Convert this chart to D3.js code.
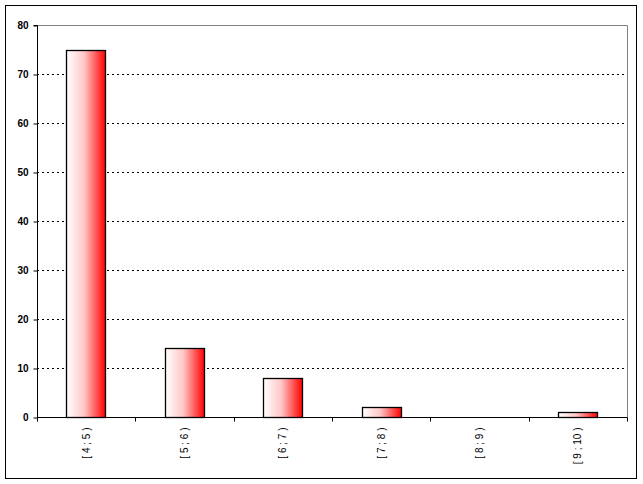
<!DOCTYPE html>
<html><head><meta charset="utf-8">
<script src="https://cdn.jsdelivr.net/npm/d3@7"></script>
<style>body{margin:0;background:#fff}svg{display:block}</style>
</head><body>
<script>
const categories = ["[ 4 ; 5 )", "[ 5 ; 6 )", "[ 6 ; 7 )", "[ 7 ; 8 )", "[ 8 ; 9 )", "[ 9 ; 10 )"];
const values = [75, 14, 8, 2, 0, 1];
const yTicks = [0, 10, 20, 30, 40, 50, 60, 70, 80];

const W = 643, H = 484;
const m = {left: 37, right: 16, top: 25, bottom: 67};
const svg = d3.select("body").append("svg").attr("width", W).attr("height", H);

svg.append("rect").attr("x", 5.5).attr("y", 5.5).attr("width", 631).attr("height", 473)
  .attr("fill", "#fff").attr("stroke", "#000").attr("stroke-width", 1);

const defs = svg.append("defs");
const g0 = defs.append("linearGradient").attr("id", "grad").attr("x1", "0").attr("x2", "1").attr("y1", "0").attr("y2", "0");
g0.append("stop").attr("offset", "0").attr("stop-color", "#ffffff");
g0.append("stop").attr("offset", "0.45").attr("stop-color", "#ffc8c8");
g0.append("stop").attr("offset", "1").attr("stop-color", "#ff0000");

const x = d3.scaleBand().domain(categories).range([m.left, W - m.right]).paddingInner(0).paddingOuter(0);
const y = d3.scaleLinear().domain([0, 80]).range([H - m.bottom, m.top]);

const x0 = m.left, x1 = W - m.right, yb = y(0), yt = y(80);

// plot frame (top and right grey)
svg.append("path").attr("d", `M${x0},${Math.round(yt)+0.5}H${x1+0.5}V${yb}`)
  .attr("fill", "none").attr("stroke", "#808080");

// gridlines
svg.append("g").selectAll("line").data(yTicks.filter(t => t > 0 && t < 80)).join("line")
  .attr("x1", x0).attr("x2", x1)
  .attr("y1", d => Math.round(y(d)) + 0.5).attr("y2", d => Math.round(y(d)) + 0.5)
  .attr("stroke", "#000").attr("stroke-dasharray", "2,3");

// bars
const bw = x.bandwidth() * 0.4;
svg.append("g").selectAll("rect").data(values).join("rect")
  .attr("x", (d, i) => Math.round(x(categories[i]) + x.bandwidth() / 2 - bw / 2) + 0.5)
  .attr("width", Math.round(bw))
  .attr("y", d => Math.round(y(d)) + 0.5)
  .attr("height", d => Math.round(yb) - Math.round(y(d)))
  .attr("fill", "url(#grad)").attr("stroke", d => d > 0 ? "#000" : "none").attr("stroke-width", 1.3);

// y axis
const ya = svg.append("g").attr("transform", `translate(${x0 + 0.5},0.5)`)
  .call(d3.axisLeft(y).tickValues(yTicks).tickSize(4).tickPadding(5).tickFormat(d3.format("d")));
ya.select(".domain").attr("stroke", "#000").attr("d", `M-4,${yt}H0V${yb}`);
ya.selectAll("line").attr("stroke", "#000");
ya.selectAll("text").attr("font-family", "Arial, 'Liberation Sans', sans-serif")
  .attr("font-size", 10).attr("font-weight", "bold").attr("fill", "#000");

// x axis
const xa = svg.append("g").attr("transform", `translate(0.5,${Math.round(yb) + 0.5})`);
xa.append("line").attr("x1", x0).attr("x2", x1).attr("stroke", "#000");
xa.selectAll("line.tk").data(categories.concat(["end"])).join("line").attr("class", "tk")
  .attr("x1", (d, i) => Math.round(m.left + i * x.bandwidth()))
  .attr("x2", (d, i) => Math.round(m.left + i * x.bandwidth()))
  .attr("y1", 0).attr("y2", 4).attr("stroke", "#000");
xa.selectAll("text").data(categories).join("text")
  .attr("transform", d => `translate(${x(d) + x.bandwidth() / 2 + 3},10) rotate(-90)`)
  .attr("text-anchor", "end")
  .attr("font-family", "Arial, 'Liberation Sans', sans-serif").attr("font-size", 10)
  .attr("fill", "#000").text(d => d);
</script>
</body></html>
